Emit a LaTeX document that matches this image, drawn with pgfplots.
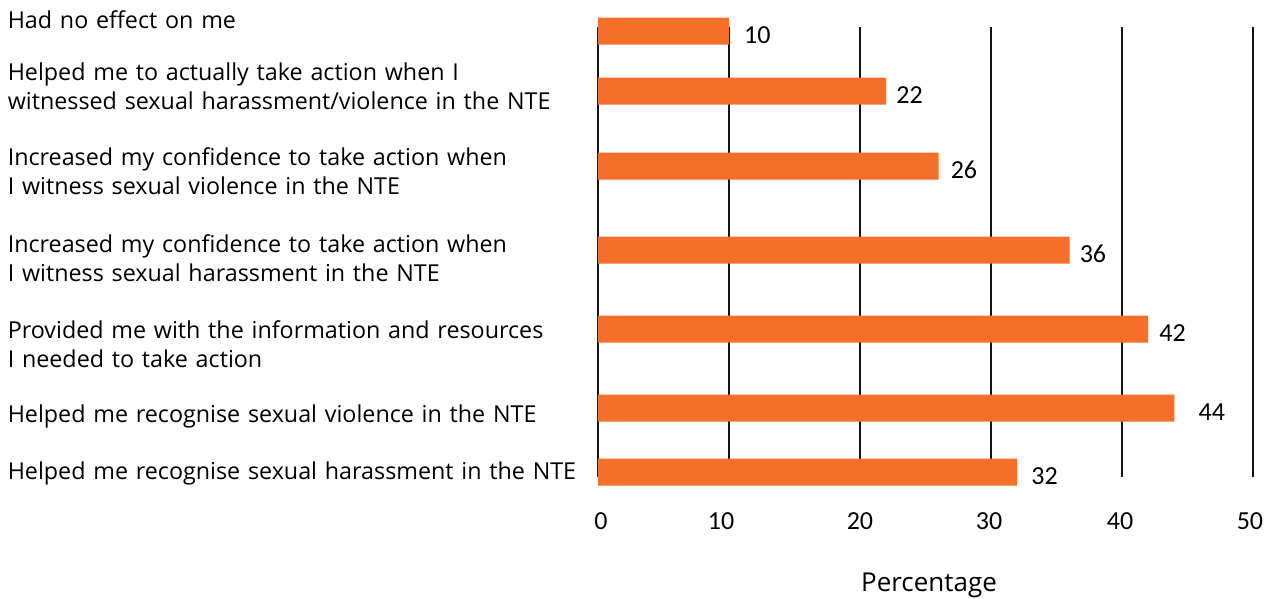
\documentclass[border=0pt]{standalone}
\usepackage{pgfplots}
\pgfplotsset{compat=1.18}
\usepackage{pgfplotstable}
\usepackage{fontspec}
\setmainfont{Open Sans}
\newfontfamily\numfont{Carlito}
\definecolor{barorange}{RGB}{244,112,42}
\definecolor{gridblack}{RGB}{20,20,20}
\pgfplotstableread{
val pos dx
10 31 15
22 91 10
26 166 12
36 250 10
42 329 11
44 408 24
32 472 14
}\bars
\begin{document}
\fontsize{23.3bp}{29bp}\selectfont
\begin{tikzpicture}
\useasboundingbox (-598bp,-122bp) rectangle (674bp,477bp);
\begin{axis}[
  at={(0,0)}, anchor=south west,
  scale only axis, width=655bp, height=467bp,
  xmin=0, xmax=50, ymin=10, ymax=477, y dir=reverse,
  axis line style={draw=none},
  major tick length=0pt,
  xtick={0.23,9.39,20,29.85,39.85,49.77},
  xticklabels={0,10,20,30,40,50},
  xticklabel style={anchor=center, yshift=-44bp, font=\numfont\fontsize{26bp}{29bp}\selectfont},
  ytick={20,86,171,258,344,416,473},
  yticklabels={
    {Had no effect on me},
    {Helped me to actually take action when I\\witnessed sexual harassment/violence in the NTE},
    {Increased my confidence to take action when\\I witness sexual violence in the NTE},
    {Increased my confidence to take action when\\I witness sexual harassment in the NTE},
    {Provided me with the information and resources\\I needed to take action},
    {Helped me recognise sexual violence in the NTE},
    {Helped me recognise sexual harassment in the NTE}},
  yticklabel style={text width=590bp, align=left, inner sep=0pt, anchor=east},
  xlabel={Percentage},
  xlabel style={at={(current axis.south west)}, anchor=center, xshift=331bp, yshift=-108bp, font=\fontsize{26bp}{29bp}\selectfont},
  clip=false,
  /pgf/number format/assume math mode=true,
]
\pgfplotsinvokeforeach{0,10,20,30,40,50}{
  \addplot[gridblack, line width=1.1bp, forget plot] coordinates {(#1,27) (#1,477)};
}
\addplot[xbar, bar width=27, fill=barorange, draw=none,
  visualization depends on={\thisrow{dx} \as \dx},
  nodes near coords,
  every node near coord/.append style={anchor=west, inner sep=0pt, xshift=\dx bp, yshift=-4bp, text=black, font=\numfont\fontsize{26bp}{29bp}\selectfont},
] table[x=val, y=pos] {\bars};
\end{axis}
\end{tikzpicture}
\end{document}
